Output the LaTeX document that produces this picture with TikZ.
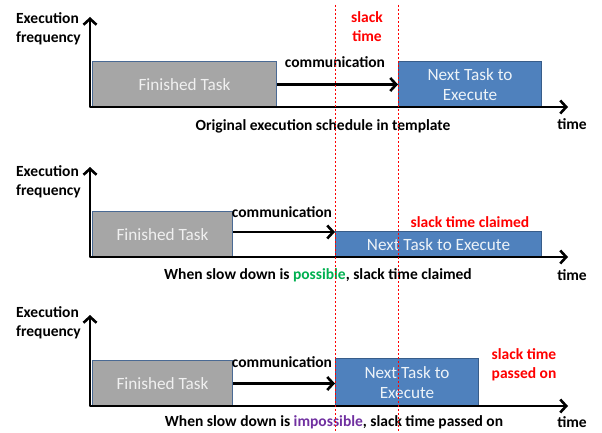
\documentclass[tikz,border=0pt]{standalone}
\usepackage{fontspec}
\setmainfont{Carlito}
\usetikzlibrary{arrows.meta}
\definecolor{taskgray}{HTML}{A6A6A6}
\definecolor{grayborder}{HTML}{4A6A94}
\definecolor{taskblue}{HTML}{4F81BD}
\definecolor{blueborder}{HTML}{385D8A}
\definecolor{slackred}{HTML}{FF0000}
\definecolor{okgreen}{HTML}{00B050}
\definecolor{nopurple}{HTML}{7030A0}
\begin{document}
\begin{tikzpicture}[x=1pt,y=-1pt,
  axisline/.style={line width=2.6pt,line join=round,{Straight Barb[length=6pt,width=13pt]}-{Straight Barb[length=6pt,width=13pt]}},
  commarrow/.style={line width=2.6pt,-{Straight Barb[length=6pt,width=13pt]}},
  graybox/.style={draw=grayborder,fill=taskgray,line width=1pt,anchor=north west,inner sep=0pt,text=white!88!gray,font=\fontsize{17.2}{20}\selectfont,align=center},
  bluebox/.style={draw=blueborder,fill=taskblue,line width=1pt,anchor=north west,inner sep=0pt,text=white!90!taskblue,font=\fontsize{17.2}{20}\selectfont,align=center},
  lbl/.style={font=\bfseries\fontsize{15.5}{18}\selectfont,inner sep=0pt,align=center},
  ylbl/.style={font=\bfseries\fontsize{15.5}{19}\selectfont,inner sep=0pt,align=left,anchor=east},
  slack/.style={lbl,text=slackred,font=\bfseries\fontsize{15.5}{19}\selectfont},
  slackline/.style={slackred,line width=0.6pt,dash pattern=on 2pt off 2pt}]
\useasboundingbox (0,0) rectangle (602,433);

% ---------- panel 1 ----------
\coordinate (o1) at (90,107);
\coordinate (y1) at (90,17);
\coordinate (t1) at (568,107);
\node[graybox,minimum width=184pt,minimum height=46pt] (f1) at (92,61) {Finished Task};
\node[bluebox,minimum width=143pt,minimum height=46pt] (n1) at (398,61) {Next Task to\\Execute};
\draw[axisline] (y1) -- (o1) -- (t1);
\draw[commarrow] (f1.east) -- (n1.west);
\node[ylbl] (e1) at (81,29) {Execution\\frequency};
\node[lbl] (c1) at (335,62) {communication};
\node[slack] (s1) at (367,27) {slack\\time};
\node[lbl] (cap1) at (323,126) {Original execution schedule in template};
\node[lbl] (tm1) at (572,124) {time};

% ---------- panel 2 ----------
\coordinate (o2) at (90,257);
\coordinate (y2) at (90,167);
\coordinate (t2) at (568,257);
\node[graybox,minimum width=140pt,minimum height=46pt] (f2) at (92,211) {Finished Task};
\node[bluebox,minimum width=206pt,minimum height=26pt] (n2) at (335,231) {Next Task to Execute};
\draw[axisline] (y2) -- (o2) -- (t2);
\draw[commarrow] (f2.east |- 0,232) -- (n2.west |- 0,232);
\node[ylbl] (e2) at (81,182) {Execution\\frequency};
\node[lbl] (c2) at (282,212) {communication};
\node[slack] (s2) at (470,222) {slack time claimed};
\node[lbl] (cap2) at (318,275) {When slow down is \textcolor{okgreen}{possible}, slack time claimed};
\node[lbl] (tm2) at (572,275) {time};

% ---------- panel 3 ----------
\coordinate (o3) at (90,406);
\coordinate (y3) at (90,315);
\coordinate (t3) at (568,406);
\node[graybox,minimum width=140pt,minimum height=46pt] (f3) at (92,360) {Finished Task};
\node[bluebox,minimum width=143pt,minimum height=48pt] (n3) at (335,358) {Next Task to\\Execute};
\draw[axisline] (y3) -- (o3) -- (t3);
\draw[commarrow] (f3.east) -- (f3.east -| n3.west);
\node[ylbl] (e3) at (81,323) {Execution\\frequency};
\node[lbl] (c3) at (282,362) {communication};
\node[slack] (s3) at (524,365) {slack time\\passed on};
\node[lbl] (cap3) at (334,422) {When slow down is \textcolor{nopurple}{impossible}, slack time passed on};
\node[lbl] (tm3) at (572,422) {time};

% ---------- slack boundaries ----------
\coordinate (d1a) at (335,5);
\coordinate (d1b) at (335,433);
\coordinate (d2a) at (398,5);
\coordinate (d2b) at (398,433);
\draw[slackline] (d1a) -- (d1b);
\draw[slackline] (d2a) -- (d2b);
\end{tikzpicture}
\end{document}
